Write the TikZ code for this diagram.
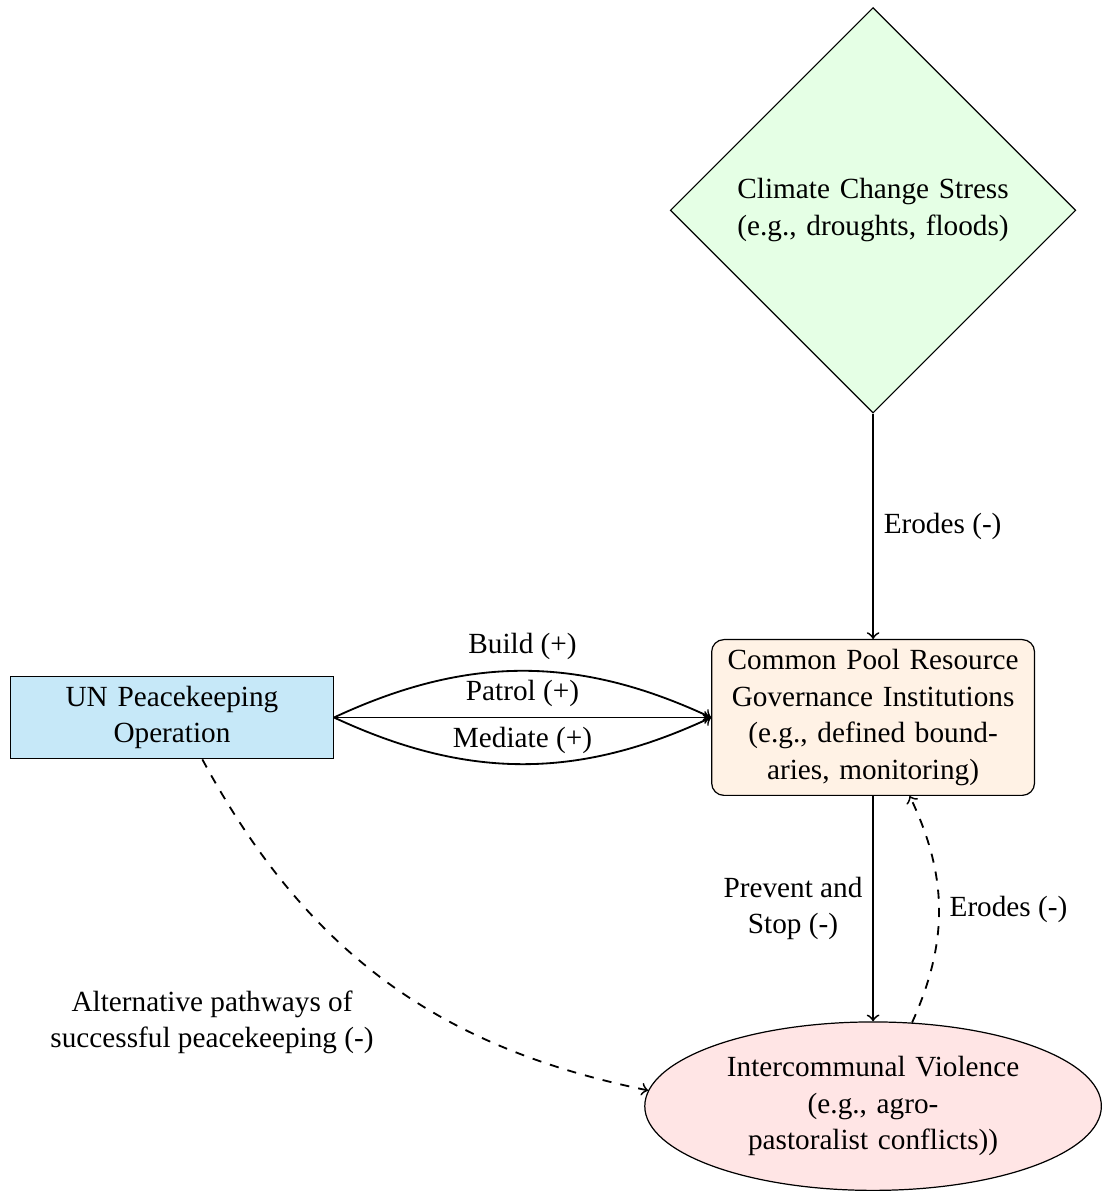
\documentclass[tikz,border=0pt]{standalone}
\usepackage{fontspec}
\setmainfont{Liberation Serif}[Scale=0.96]
\usetikzlibrary{shapes}
\usetikzlibrary{positioning}
\definecolor{unblue}{RGB}{198,232,248}
\tikzset{
	box/.style = {
		align=center,
		text width=3.5cm,
		draw=black,
		thin
	},
	node_un/.style = {
		box,
		rectangle,
		fill=unblue
	},
	node_cpr/.style = {
		box,
		rectangle,
		rounded corners,
		fill=orange!10
	},
	node_climate/.style = {
		box,
		diamond,
		aspect=1,
		fill=green!10
	},
	node_violence/.style = {
		box,
		ellipse,
		fill=red!10
	},
	edge_main/.style = {
		->,
		semithick
	},
	edge_alt/.style = {
		edge_main,
		dashed
	},
}

\begin{document}
\begin{tikzpicture}[node distance=2.6cm]
\node [node_cpr] (cpr) {Common Pool Resource\\Governance Institutions\\(e.g., defined bound-\\aries, monitoring)};
\node [node_climate, above=of cpr] (climate) {Climate Change Stress\\(e.g., droughts, floods)};
\node [node_un, left=4.35cm of cpr] (un) {UN Peacekeeping\\Operation};
\node [node_violence, below=of cpr] (violence) {Intercommunal Violence\\(e.g., agro-\\pastoralist conflicts))};

\draw [edge_main] (climate) -- node[midway, right] {Erodes (-)} (cpr);
\draw [edge_main] (un.east) to[bend left=25] node[midway, above] {Build (+)} (cpr.west);
\draw [edge_main] (un.east) -- node[midway, above] {Patrol (+)} (cpr.west);
\draw [edge_main] (un.east) to[bend right=25] node[midway, above] {Mediate (+)} (cpr.west);
\draw [edge_main] (cpr) -- node[midway, left, align=center] {Prevent and\\Stop (-)} (violence);
\draw [edge_alt] (violence) to[bend right=25] node[midway, right] {Erodes (-)} (cpr);
\draw [edge_alt] (un) to[bend right=25] node[midway, below left, align=center] {Alternative pathways of\\successful peacekeeping (-)} (violence);

% margins as in the layout
\pgfresetboundingbox
\path [use as bounding box] (un.west |- climate.north) ++(-0.115,0.08) rectangle (violence.east |- violence.south);
\end{tikzpicture}
\end{document}
